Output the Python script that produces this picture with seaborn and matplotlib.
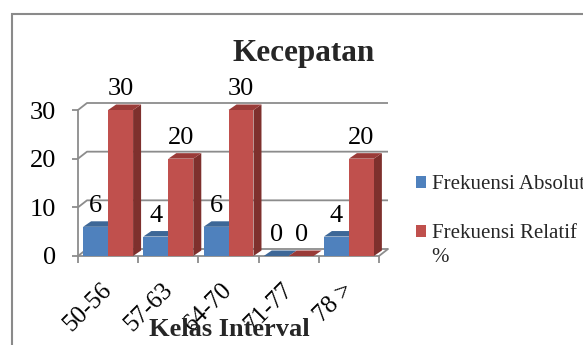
import numpy as np
import pandas as pd
import matplotlib
matplotlib.use("Agg")
import matplotlib.pyplot as plt
from matplotlib.patches import Polygon, Rectangle
from matplotlib.colors import to_rgb
from matplotlib.transforms import ScaledTranslation
import seaborn as sns

# Data
kelas = ["50-56", "57-63", "64-70", "71-77", "78 >"]
frek_absolut = [6, 4, 6, 0, 4]
frek_relatif = [30, 20, 30, 0, 20]
series_names = ["Frekuensi Absolut", "Frekuensi Relatif"]
series_suffix = "%"
y_ticks = [0, 10, 20, 30]

# Colours: front face, top face, side face for each series
front_colors = ["#4F81BD", "#C0504D"]
top_colors = ["#3D6797", "#9A3B38"]
side_colors = ["#34587F", "#7E302D"]
grid_color = "#8C8C8C"

df = pd.DataFrame({
    "Kelas": kelas * 2,
    "Nilai": frek_absolut + frek_relatif,
    "Seri": [series_names[0]] * len(kelas) + [series_names[1]] * len(kelas),
})

sns.set_theme(style="white")
plt.rcParams["font.family"] = ["Liberation Serif", "DejaVu Serif"]

W, H = 583, 345
fig = plt.figure(figsize=(W / 100, H / 100), dpi=100)
ax = fig.add_axes([78 / W, 1 - 256 / H, 301 / W, 146 / H])

sns.barplot(data=df, x="Kelas", y="Nilai", hue="Seri", palette=front_colors,
            saturation=1, width=0.83, linewidth=0, ax=ax)
ax.set_xlim(-0.5, len(kelas) - 0.5)
ax.set_ylim(0, 30)
ax.set_xlabel("")
ax.set_ylabel("")

# pixel size of one data unit, for the pseudo-3D depth
fig.canvas.draw()
bb = ax.get_window_extent()
ux = bb.width / len(kelas)
uy = bb.height / 30
bdx, bdy = 8 / ux, 5.5 / uy      # bar depth
wdx, wdy = 9 / ux, 7 / uy        # wall depth

# top and side faces of each bar
for bar in list(ax.patches):
    x0, w, h = bar.get_x(), bar.get_width(), bar.get_height()
    k = 0 if np.allclose(bar.get_facecolor()[:3], to_rgb(front_colors[0]), atol=0.02) else 1
    bar.set_zorder(2.5 + k)
    bar.set_clip_on(False)
    top = Polygon([(x0, h), (x0 + w, h), (x0 + w + bdx, h + bdy), (x0 + bdx, h + bdy)],
                  closed=True, fc=top_colors[k], lw=0, zorder=2 + k, clip_on=False)
    side = Polygon([(x0 + w, 0), (x0 + w + bdx, bdy), (x0 + w + bdx, h + bdy), (x0 + w, h)],
                   closed=True, fc=side_colors[k], lw=0, zorder=2 + k, clip_on=False)
    ax.add_patch(side)
    ax.add_patch(top)

# back wall gridlines and floor
xl, xr = -0.5, len(kelas) - 0.5
for v in y_ticks:
    ax.plot([xl, xl + wdx, xr + wdx], [v, v + wdy, v + wdy], color=grid_color,
            lw=1.3, zorder=0.5, clip_on=False, solid_capstyle="butt")
ax.plot([xr, xr + wdx], [0, wdy], color=grid_color, lw=1.3, zorder=0.5, clip_on=False)

for s in ["top", "right"]:
    ax.spines[s].set_visible(False)
for s in ["left", "bottom"]:
    ax.spines[s].set_color(grid_color)
    ax.spines[s].set_linewidth(1.3)
    ax.spines[s].set_zorder(1)

# ticks
ax.set_yticks(y_ticks)
ax.tick_params(axis="y", left=True, length=4.3, width=1.3, color=grid_color,
               pad=11.5, labelsize=19, labelcolor="black")
ax.set_xticks(np.arange(-0.5, len(kelas)), minor=True)
ax.tick_params(axis="x", which="minor", bottom=True, length=5.2, width=1.3, color=grid_color)
ax.tick_params(axis="x", which="major", bottom=True, length=0, pad=14, labelsize=18,
               labelcolor="black")
shift = ScaledTranslation(-0.07, -0.03, fig.dpi_scale_trans)
for lbl in ax.get_xticklabels():
    lbl.set_rotation(45)
    lbl.set_ha("right")
    lbl.set_rotation_mode("anchor")
    lbl.set_transform(lbl.get_transform() + shift)

# value labels
for cont in ax.containers:
    ax.bar_label(cont, padding=7, fontsize=19, color="black")

# legend
sns.move_legend(ax, "upper left", bbox_to_anchor=(416 / W, 1 - 175 / H),
                bbox_transform=fig.transFigure, frameon=False, title=None,
                fontsize=15, handlelength=0.5, handleheight=0.5, handletextpad=0.25,
                labelspacing=1.45, borderpad=0, borderaxespad=0)
fig.text(431 / W, 1 - 258 / H, series_suffix, ha="left", va="center", fontsize=15)

# titles
fig.text(304 / W, 1 - 53 / H, "Kecepatan", ha="center", va="center",
         fontsize=22.5, fontweight="bold")
fig.text(229 / W, 1 - 330 / H, "Kelas Interval", ha="center", va="center",
         fontsize=19, fontweight="bold")

# chart frame
fig.patches.append(Rectangle((12 / W, -0.1), 1.2, 1 - 14 / H + 0.1,
                             transform=fig.transFigure, fill=False,
                             ec="#8A8A8A", lw=1.5))

fig.savefig("out.png", dpi=100)
